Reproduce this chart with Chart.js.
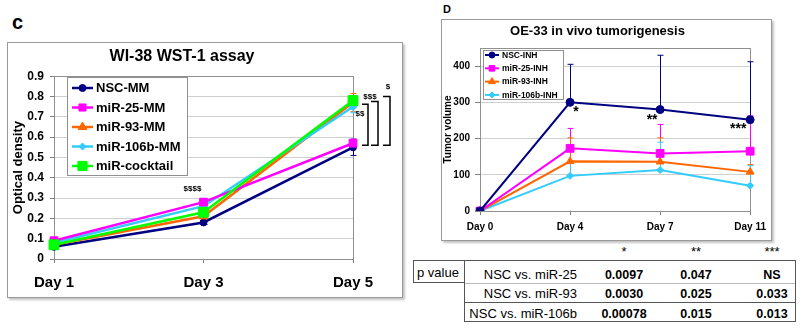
<!DOCTYPE html>
<html>
<head>
<meta charset="utf-8">
<script src="https://cdn.jsdelivr.net/npm/chart.js@4/dist/chart.umd.min.js"></script>
<style>
  body { margin: 0; width: 800px; height: 331px; background: #fff; position: relative; overflow: hidden;
         font-family: "Liberation Sans", Arial, sans-serif; color: #000; }
  .abs { position: absolute; white-space: nowrap; }
  .panel { position: absolute; border: 1px solid #9a9a9a; box-shadow: 2px 2px 2px #c4c4c4; background: #fff; box-sizing: border-box; }
  canvas { position: absolute; }
  .tcell { position: absolute; font-size: 13px; line-height: 16px; white-space: nowrap; }
  .num { font-weight: bold; font-size: 12.5px; transform: translateX(-50%); }
  .line { position: absolute; background: #555; }
</style>
</head>
<body>
<div class="abs" style="left:12px;top:11px;font-size:20px;font-weight:bold;">c</div>
<div class="abs" style="left:443px;top:3px;font-size:11px;font-weight:bold;">D</div>

<div class="panel" style="left:7px;top:42px;width:396px;height:256px;"></div>
<canvas id="chartC" width="396" height="256" style="left:7px;top:42px;"></canvas>

<div class="panel" style="left:441px;top:19px;width:331px;height:222px;"></div>
<canvas id="chartD" width="331" height="222" style="left:441px;top:19px;"></canvas>

<div id="pTable"></div>

<script>
const FONT = '"Liberation Sans", Arial, sans-serif';
Chart.defaults.font.family = FONT;
Chart.defaults.color = '#000';

// ---- panel C: WI-38 WST-1 assay ----
const daysC = ['Day 1', 'Day 3', 'Day 5'];
const nscMM   = [0.06, 0.18, 0.55];
const mir25MM = [0.09, 0.28, 0.57];
const mir93MM = [0.07, 0.21, 0.77];
const mir106MM = [0.08, 0.26, 0.75];
const cocktail = [0.07, 0.23, 0.78];
const errNscMM = [0.01, 0.01, 0.04];
const err25MM = [0.01, 0.01, 0.02];
const err93MM = [0.01, 0.01, 0.045];
const err106MM = [0.01, 0.01, 0.03];
const errCocktail = [0.01, 0.01, 0.02];

// ---- panel D: OE-33 in vivo tumorigenesis ----
const daysD = ['Day 0', 'Day 4', 'Day 7', 'Day 11'];
const nscINH   = [0, 300, 280, 252];
const mir25INH = [0, 173, 159, 165];
const mir93INH = [0, 137, 136, 108];
const mir106INH = [0, 97, 113, 70];
const errNscINH = [0, 105, 150, 160];
const err25INH = [0, 55, 80, 98];
const err93INH = [0, 65, 66, 20];
const err106INH = [0, 35, 77, 55];

// ---- p value table ----
const starHeaders = ['*', '**', '***'];
const compareLabels = ['NSC vs. miR-25', 'NSC vs. miR-93', 'NSC vs. miR-106b'];
const pDay4 = ['0.0097', '0.0030', '0.00078'];
const pDay7 = ['0.047', '0.025', '0.015'];
const pDay11 = ['NS', '0.033', '0.013'];

const NAVY = '#000080', PINK = '#ff00ff', ORANGE = '#ff6600', CYAN = '#33ccff', GREEN = '#00ff00';

function series(label, data, color, style, radius, lw, order, errUp, errDown, legendRadius) {
  return {
    label, data, order, errUp, errDown, legendRadius,
    borderColor: color, backgroundColor: color, pointBackgroundColor: color, pointBorderColor: color,
    borderWidth: lw, pointStyle: style, pointRadius: radius, pointBorderWidth: 1,
    tension: 0, fill: false,
  };
}

const plotBorder = {
  id: 'plotBorder',
  beforeDatasetsDraw(chart) {
    const { ctx, chartArea: a } = chart;
    ctx.save();
    ctx.strokeStyle = '#909090';
    ctx.lineWidth = 1;
    ctx.strokeRect(Math.round(a.left) + 0.5, Math.round(a.top) + 0.5, Math.round(a.right - a.left), Math.round(a.bottom - a.top));
    ctx.restore();
  },
};

const errorBars = {
  id: 'errorBars',
  beforeDatasetsDraw(chart, args, opts) {
    const { ctx } = chart;
    const ys = chart.scales.y;
    ctx.save();
    chart.data.datasets.forEach((ds, i) => {
      const meta = chart.getDatasetMeta(i);
      ctx.strokeStyle = ds.borderColor;
      ctx.lineWidth = 1;
      meta.data.forEach((pt, j) => {
        const up = ds.errUp ? ds.errUp[j] : 0;
        const dn = ds.errDown ? ds.errDown[j] : 0;
        if (!up && !dn) return;
        const yTop = ys.getPixelForValue(ds.data[j] + up);
        const yBot = ys.getPixelForValue(ds.data[j] - dn);
        const x = Math.round(pt.x) + 0.5;
        ctx.beginPath();
        ctx.moveTo(x, yTop); ctx.lineTo(x, yBot);
        if (up) { ctx.moveTo(x - opts.cap, yTop); ctx.lineTo(x + opts.cap, yTop); }
        if (dn) { ctx.moveTo(x - opts.cap, yBot); ctx.lineTo(x + opts.cap, yBot); }
        ctx.stroke();
      });
    });
    ctx.restore();
  },
};

const boxLegend = {
  id: 'boxLegend',
  afterDraw(chart, args, o) {
    const { ctx, chartArea: a } = chart;
    const x = Math.round(a.left + o.dx), y = Math.round(a.top + o.dy);
    ctx.save();
    ctx.fillStyle = '#fff';
    ctx.strokeStyle = '#909090';
    ctx.lineWidth = 1;
    ctx.fillRect(x, y, o.w, o.h);
    ctx.strokeRect(x + 0.5, y + 0.5, o.w, o.h);
    ctx.font = `bold ${o.size}px ${FONT}`;
    ctx.textBaseline = 'middle';
    chart.data.datasets.forEach((ds, i) => {
      const cy = y + o.first + i * o.step;
      ctx.strokeStyle = ds.borderColor;
      ctx.lineWidth = ds.borderWidth;
      ctx.beginPath();
      ctx.moveTo(x + o.lx0, cy); ctx.lineTo(x + o.lx1, cy);
      ctx.stroke();
      ctx.fillStyle = ds.backgroundColor;
      ctx.lineWidth = 1;
      Chart.helpers.drawPoint(ctx, { pointStyle: ds.pointStyle, radius: ds.legendRadius, rotation: 0, borderWidth: 1 }, x + (o.lx0 + o.lx1) / 2, cy);
      ctx.fillStyle = '#000';
      ctx.fillText(ds.label, x + o.tx, cy + 0.5);
    });
    ctx.restore();
  },
};

// text notes and brackets tied to category index + value
const notes = {
  id: 'notes',
  afterDatasetsDraw(chart, args, o) {
    const { ctx } = chart;
    const xs = chart.scales.x, ys = chart.scales.y;
    ctx.save();
    ctx.fillStyle = '#000';
    ctx.textAlign = 'center';
    ctx.textBaseline = 'middle';
    (o.texts || []).forEach(t => {
      ctx.font = `bold ${t.size}px ${FONT}`;
      ctx.fillText(t.text, xs.getPixelForValue(t.idx) + t.dx, ys.getPixelForValue(t.value) + (t.dy || 0));
    });
    ctx.strokeStyle = '#000';
    ctx.lineWidth = 1.5;
    (o.brackets || []).forEach(b => {
      const x0 = xs.getPixelForValue(b.idx) + b.dx0, x1 = xs.getPixelForValue(b.idx) + b.dx1;
      const y0 = ys.getPixelForValue(b.top), y1 = ys.getPixelForValue(b.bottom);
      ctx.beginPath();
      ctx.moveTo(x0, y0); ctx.lineTo(x1, y0); ctx.lineTo(x1, y1); ctx.lineTo(x0, y1);
      ctx.stroke();
    });
    ctx.restore();
  },
};

new Chart(document.getElementById('chartC'), {
  type: 'line',
  data: {
    labels: daysC,
    datasets: [
      series('NSC-MM', nscMM, NAVY, 'circle', 3.5, 2.5, 4, errNscMM, errNscMM, 3.5),
      series('miR-25-MM', mir25MM, PINK, 'rect', 5.5, 2.5, 1, err25MM, err25MM, 5),
      series('miR-93-MM', mir93MM, ORANGE, 'triangle', 5, 2.5, 3, err93MM, err93MM, 5),
      series('miR-106b-MM', mir106MM, CYAN, 'rectRot', 4, 2.5, 2, err106MM, err106MM, 3.5),
      series('miR-cocktail', cocktail, GREEN, 'rect', 7, 2.5, 0, errCocktail, errCocktail, 6.5),
    ],
  },
  options: {
    responsive: false,
    animation: false,
    layout: { padding: { left: 4, right: 50, top: 0, bottom: 1 } },
    plugins: {
      legend: { display: false },
      tooltip: { enabled: false },
      title: { display: true, text: 'WI-38 WST-1 assay', font: { size: 16, weight: 'bold' }, color: '#000', padding: { top: 5, bottom: 10 } },
      errorBars: { cap: 3 },
      boxLegend: { dx: 13, dy: 1, w: 120, h: 98, first: 11, step: 19.5, lx0: 5, lx1: 26, tx: 29, size: 13 },
      notes: {
        texts: [
          { text: '$$$$', idx: 1, value: 0.345, dx: -11, size: 8 },
          { text: '$$', idx: 2, value: 0.713, dx: 7, size: 8 },
          { text: '$$$', idx: 2, value: 0.80, dx: 17, size: 8 },
          { text: '$', idx: 2, value: 0.846, dx: 35, size: 8 },
        ],
        brackets: [
          { idx: 2, top: 0.762, bottom: 0.56, dx0: 9, dx1: 15 },
          { idx: 2, top: 0.775, bottom: 0.56, dx0: 18, dx1: 25 },
          { idx: 2, top: 0.80, bottom: 0.56, dx0: 30, dx1: 37 },
        ],
      },
    },
    scales: {
      x: {
        grid: { drawOnChartArea: false, drawTicks: true, tickLength: 4, color: '#808080' },
        border: { color: '#808080' },
        ticks: { font: { size: 15, weight: 'bold' }, color: '#000', padding: 11, maxRotation: 0, autoSkip: false },
        afterFit: s => { s.height = 38; },
      },
      y: {
        min: 0, max: 0.9,
        grid: { color: '#cfcfcf', tickColor: '#808080', tickLength: 4 },
        border: { color: '#808080' },
        ticks: { stepSize: 0.1, font: { size: 12, weight: 'bold' }, color: '#000', padding: 6,
                 callback: v => (v === 0 ? '0' : v.toFixed(1)) },
        title: { display: true, text: 'Optical density', font: { size: 13, weight: 'bold' }, color: '#000', padding: 0 },
        afterFit: s => { s.width = 43; },
      },
    },
  },
  plugins: [plotBorder, errorBars, boxLegend, notes],
});

new Chart(document.getElementById('chartD'), {
  type: 'line',
  data: {
    labels: daysD,
    datasets: [
      series('NSC-INH', nscINH, NAVY, 'circle', 4, 2, 0, errNscINH, null, 3),
      series('miR-25-INH', mir25INH, PINK, 'rect', 5.5, 2, 1, err25INH, null, 4),
      series('miR-93-INH', mir93INH, ORANGE, 'triangle', 4.5, 2, 2, err93INH, null, 4),
      series('miR-106b-INH', mir106INH, CYAN, 'rectRot', 3.5, 2, 3, err106INH, null, 3),
    ],
  },
  options: {
    responsive: false,
    animation: false,
    layout: { padding: { left: 1, right: 19, top: 0, bottom: 1 } },
    plugins: {
      legend: { display: false },
      tooltip: { enabled: false },
      title: { display: true, text: 'OE-33 in vivo tumorigenesis', font: { size: 13, weight: 'bold' }, color: '#000', padding: { top: 5, bottom: 8.4 } },
      errorBars: { cap: 3 },
      boxLegend: { dx: 3, dy: 2, w: 80, h: 49, first: 5, step: 13.3, lx0: 2, lx1: 16, tx: 19, size: 8.5 },
      notes: {
        texts: [
          { text: '*', idx: 1, value: 300, dx: 6, dy: 10, size: 14 },
          { text: '**', idx: 2, value: 280, dx: -8, dy: 11, size: 14 },
          { text: '***', idx: 3, value: 252, dx: -12, dy: 9, size: 14 },
        ],
      },
    },
    scales: {
      x: {
        grid: { drawOnChartArea: false, drawTicks: true, tickLength: 4, color: '#808080' },
        border: { color: '#808080' },
        ticks: { font: { size: 10, weight: 'bold' }, color: '#000', padding: 6, maxRotation: 0, autoSkip: false },
        afterFit: s => { s.height = 29; },
      },
      y: {
        min: 0, max: 450,
        grid: { color: '#cfcfcf', tickColor: '#808080', tickLength: 5 },
        border: { color: '#808080' },
        ticks: { stepSize: 100, font: { size: 10, weight: 'bold' }, color: '#000', padding: 5 },
        afterBuildTicks: s => { s.ticks = s.ticks.filter(t => t.value % 100 === 0); },
        title: { display: true, text: 'Tumor volume', font: { size: 10, weight: 'bold' }, color: '#000', padding: 0 },
        afterFit: s => { s.width = 38; },
      },
    },
  },
  plugins: [plotBorder, errorBars, boxLegend, notes],
});

// p value table (HTML)
(function buildTable() {
  const root = document.getElementById('pTable');
  const colX = [624, 696, 772];
  const rowY = [275, 294, 314];
  const add = (html, css, cls) => {
    const d = document.createElement('div');
    d.className = cls || 'tcell';
    d.style.cssText = css;
    d.textContent = html;
    root.appendChild(d);
    return d;
  };
  starHeaders.forEach((s, i) => add(s, `left:${colX[i]}px;top:${252 - 8}px;transform:translateX(-50%);`));
  add('p value', `left:417px;top:${273 - 8}px;`);
  compareLabels.forEach((s, r) => add(s, `right:${800 - 577}px;top:${rowY[r] - 8}px;`));
  [pDay4, pDay7, pDay11].forEach((col, c) => col.forEach((v, r) =>
    add(v, `left:${colX[c]}px;top:${rowY[r] - 8}px;`, 'tcell num')));
  // borders
  const ln = css => add('', css, 'line');
  ln('left:413px;top:260px;width:383px;height:1px;');
  ln('left:413px;top:260px;width:1px;height:23px;');
  ln('left:413px;top:282px;width:51px;height:1px;');
  ln('left:464px;top:260px;width:1px;height:62px;');
  ln('left:795px;top:260px;width:1px;height:62px;');
  ln('left:465px;top:283px;width:330px;height:1px;background:#bbb;');
  ln('left:464px;top:302px;width:332px;height:1px;');
  ln('left:464px;top:321px;width:332px;height:1px;');
})();
</script>
</body>
</html>
